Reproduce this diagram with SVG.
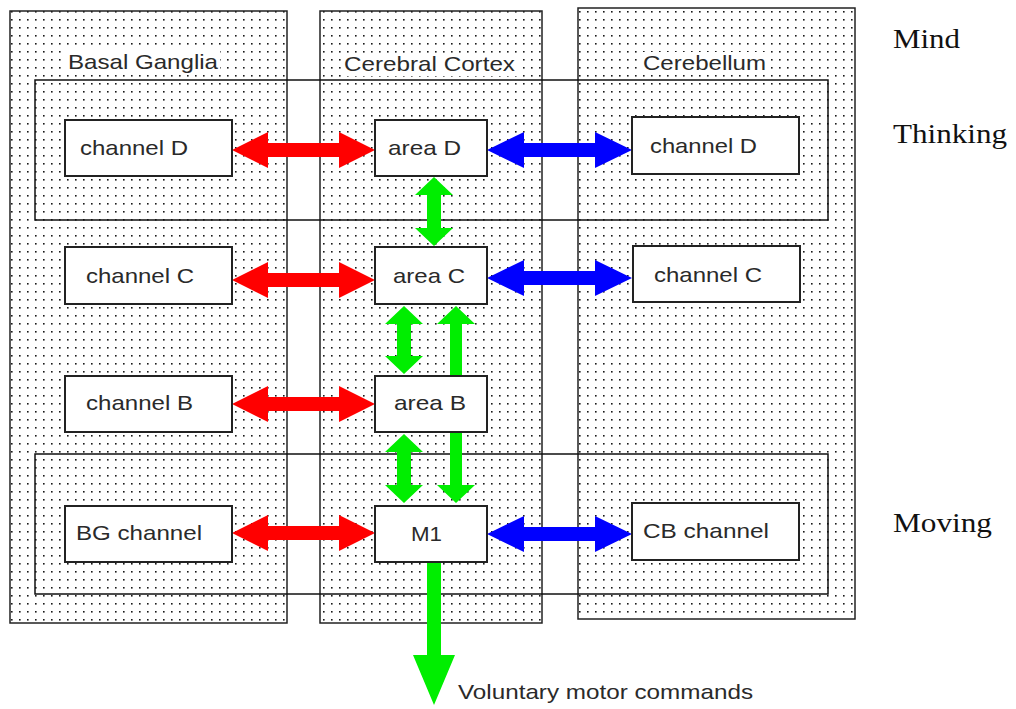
<svg xmlns="http://www.w3.org/2000/svg" width="1016" height="709" viewBox="0 0 1016 709">
<style>
.col{stroke:#222;stroke-width:1.5}
.band{fill:none;stroke:#111;stroke-width:1.5}
.node{fill:#fff;stroke:#222;stroke-width:2}
.halo{fill:#fff}
.lbl{font-family:"Liberation Sans",Arial,sans-serif;font-size:21px;fill:#2a2a2a}
.side{font-family:"Liberation Serif","Times New Roman",serif;font-size:28px;fill:#111}
.red{fill:#f00}
.blue{fill:#00f}
.green{fill:#00ee00}
</style>
<defs>
<pattern id="dots" x="0" y="0" width="8" height="8" patternUnits="userSpaceOnUse">
<rect width="8" height="8" fill="#fff"/>
<rect x="3" y="3" width="1.6" height="1.6" fill="#1a1a1a"/>
</pattern>
</defs>
<rect width="1016" height="709" fill="#fff"/>
<g id="columns">
<g id="col-bg"><rect class="col" x="10" y="11" width="277" height="612" fill="url(#dots)"/>
<rect class="halo" x="66" y="51" width="154" height="23"/>
<text class="lbl" x="68" y="69" textLength="150" lengthAdjust="spacingAndGlyphs">Basal Ganglia</text></g>
<g id="col-cc"><rect class="col" x="320" y="11" width="222" height="612" fill="url(#dots)"/>
<rect class="halo" x="342" y="53" width="175" height="23"/>
<text class="lbl" x="344" y="71" textLength="171" lengthAdjust="spacingAndGlyphs">Cerebral Cortex</text></g>
<g id="col-cb"><rect class="col" x="578" y="8" width="277" height="611" fill="url(#dots)" stroke="#444" stroke-width="2"/>
<rect class="halo" x="641" y="52" width="127" height="23"/>
<text class="lbl" x="643" y="70" textLength="123" lengthAdjust="spacingAndGlyphs">Cerebellum</text></g>
</g>
<g id="bands">
<rect class="band" x="35" y="80" width="793" height="140"/>
<rect class="band" x="35" y="454" width="793" height="140"/>
</g>
<g id="side-labels">
<text class="side" x="893" y="48" textLength="67" lengthAdjust="spacingAndGlyphs">Mind</text>
<text class="side" x="893" y="143" textLength="114" lengthAdjust="spacingAndGlyphs">Thinking</text>
<text class="side" x="893" y="532" textLength="99" lengthAdjust="spacingAndGlyphs">Moving</text>
</g>
<g id="connectors">
<polygon class="red" points="232,150 268,132 268,143 339,143 339,132 375,150 339,168 339,157 268,157 268,168"/>
<polygon class="red" points="232,280 268,262 268,273 339,273 339,262 375,280 339,298 339,287 268,287 268,298"/>
<polygon class="red" points="232,404 268,386 268,397 339,397 339,386 375,404 339,422 339,411 268,411 268,422"/>
<polygon class="red" points="232,533 268,515 268,526 339,526 339,515 375,533 339,551 339,540 268,540 268,551"/>
<polygon class="blue" points="487,150 524,132 524,143 595,143 595,132 632,150 595,168 595,157 524,157 524,168"/>
<polygon class="blue" points="487,278 524,260 524,271 595,271 595,260 632,278 595,296 595,285 524,285 524,296"/>
<polygon class="blue" points="487,534 524,516 524,527 595,527 595,516 632,534 595,552 595,541 524,541 524,552"/>
<polygon class="green" points="434,177 453,195 441,195 441,228 453,228 434,246 415,228 427,228 427,195 415,195"/>
<polygon class="green" points="404,306 423,324 411,324 411,356 423,356 404,374 385,356 397,356 397,324 385,324"/>
<polygon class="green" points="456,306 475,324 462,324 462,485 475,485 456,503 437,485 450,485 450,324 437,324"/>
<polygon class="green" points="404,434 423,452 411,452 411,485 423,485 404,503 385,485 397,485 397,452 385,452"/>
<polygon class="green" points="427,562 441,562 441,655 455,655 434,705 413,655 427,655"/>
<text class="lbl" x="458" y="699" font-size="20" textLength="295" lengthAdjust="spacingAndGlyphs">Voluntary motor commands</text>
</g>
<g id="bg-d"><rect class="node" x="65" y="120" width="167" height="56"/><text class="lbl" x="80" y="155" textLength="108" lengthAdjust="spacingAndGlyphs">channel D</text></g>
<g id="bg-c"><rect class="node" x="65" y="247" width="167" height="57"/><text class="lbl" x="86" y="283" textLength="108" lengthAdjust="spacingAndGlyphs">channel C</text></g>
<g id="bg-b"><rect class="node" x="65" y="376" width="167" height="56"/><text class="lbl" x="86" y="410" textLength="107" lengthAdjust="spacingAndGlyphs">channel B</text></g>
<g id="bg-m"><rect class="node" x="65" y="506" width="167" height="56"/><text class="lbl" x="76" y="540" textLength="126" lengthAdjust="spacingAndGlyphs">BG channel</text></g>
<g id="area-d"><rect class="node" x="375" y="120" width="112" height="56"/><text class="lbl" x="388" y="155" textLength="73" lengthAdjust="spacingAndGlyphs">area D</text></g>
<g id="area-c"><rect class="node" x="375" y="247" width="112" height="57"/><text class="lbl" x="393" y="283" textLength="72" lengthAdjust="spacingAndGlyphs">area C</text></g>
<g id="area-b"><rect class="node" x="375" y="376" width="112" height="56"/><text class="lbl" x="394" y="410" textLength="72" lengthAdjust="spacingAndGlyphs">area B</text></g>
<g id="m1"><rect class="node" x="375" y="506" width="112" height="56"/><text class="lbl" x="411" y="541" textLength="31" lengthAdjust="spacingAndGlyphs">M1</text></g>
<g id="cb-d"><rect class="node" x="632" y="117" width="167" height="57"/><text class="lbl" x="650" y="153" textLength="107" lengthAdjust="spacingAndGlyphs">channel D</text></g>
<g id="cb-c"><rect class="node" x="633" y="246" width="167" height="56"/><text class="lbl" x="654" y="282" textLength="108" lengthAdjust="spacingAndGlyphs">channel C</text></g>
<g id="cb-m"><rect class="node" x="632" y="503" width="167" height="57"/><text class="lbl" x="643" y="538" textLength="126" lengthAdjust="spacingAndGlyphs">CB channel</text></g>
</svg>
